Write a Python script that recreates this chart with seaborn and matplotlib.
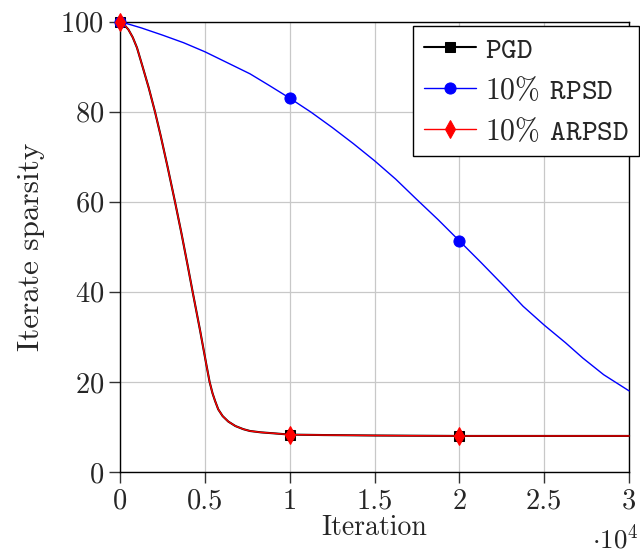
import numpy as np
import pandas as pd
import matplotlib
matplotlib.use('Agg')
import matplotlib.pyplot as plt
from matplotlib.ticker import FuncFormatter, MultipleLocator
import seaborn as sns

sns.set_style('ticks')
plt.rcParams['font.family'] = ['cmr10', 'DejaVu Serif']
plt.rcParams['mathtext.fontset'] = 'cm'
plt.rcParams['axes.formatter.use_mathtext'] = True
plt.rcParams['axes.unicode_minus'] = False

# PGD / ARPSD 几乎重合
pgd_iter = [0, 250, 500, 750, 1000, 1330, 1700, 2060, 2400, 2800, 3240, 3620,
            4000, 4280, 4710, 5070, 5280, 5450, 5600, 5790, 6050, 6380, 6800,
            7270, 7660, 8300, 9000, 10000, 12000, 15000, 20000, 25000, 30000]
pgd_sparsity = [100, 99.3, 98.2, 96.5, 94.2, 90.0, 85.2, 80, 74.6, 67.8, 60, 53,
                45.6, 40, 31.6, 24.2, 20, 17.5, 15.8, 13.9, 12.4, 11.2, 10.2,
                9.5, 9.1, 8.8, 8.6, 8.3, 8.2, 8.1, 8.0, 8.0, 8.0]
arpsd_iter = list(pgd_iter)
arpsd_sparsity = list(pgd_sparsity)

rpsd_iter = [0, 1250, 2500, 3750, 5000, 6250, 7660, 8800, 10000, 11250, 12500,
             13750, 15000, 16250, 17460, 18750, 20000, 21250, 22750, 23750, 25000,
             26250, 27270, 28500, 30000]
rpsd_sparsity = [100, 98.6, 97.0, 95.3, 93.3, 91.0, 88.4, 85.8, 83.0, 79.9, 76.5,
                 72.9, 69.1, 65.0, 60.6, 56.0, 51.3, 46.6, 40.8, 36.8, 32.6,
                 28.7, 25.3, 21.6, 18.0]

mark_at = [0, 10000, 20000]

fig, ax = plt.subplots(figsize=(6.4, 5.53), dpi=100)
fig.subplots_adjust(left=0.1875, right=0.983, bottom=0.1465, top=0.961)

ax.grid(True, color='#c8c8c8', lw=0.9)
ax.set_axisbelow(True)

sns.lineplot(x=pgd_iter, y=pgd_sparsity, ax=ax, color='black', lw=1.5,
             marker='s', markersize=7, markeredgecolor='black',
             markevery=[pgd_iter.index(v) for v in mark_at],
             label=r'$\mathtt{PGD}$', clip_on=False, zorder=3)
sns.lineplot(x=rpsd_iter, y=rpsd_sparsity, ax=ax, color='#0000ff', lw=1.0,
             marker='o', markersize=8, markeredgecolor='#0000ff',
             markevery=[rpsd_iter.index(v) for v in mark_at],
             label=r'$10\%$ $\mathtt{RPSD}$', clip_on=False, zorder=3)
sns.lineplot(x=arpsd_iter, y=arpsd_sparsity, ax=ax, color='#ff0000', lw=1.0,
             marker='d', markersize=9, markeredgecolor='#ff0000',
             markevery=[arpsd_iter.index(v) for v in mark_at],
             label=r'$10\%$ $\mathtt{ARPSD}$', clip_on=False, zorder=4)

ax.set_xlim(0, 30000)
ax.set_ylim(0, 100)
ax.xaxis.set_major_locator(MultipleLocator(5000))
ax.yaxis.set_major_locator(MultipleLocator(20))
ax.xaxis.set_major_formatter(FuncFormatter(lambda v, p: f'{v / 1e4:g}'))
ax.tick_params(direction='out', length=8, width=1, labelsize=20.5, color='#333333')
ax.tick_params(axis='x', pad=4)

for s in ax.spines.values():
    s.set_visible(True)
    s.set_color('black')
    s.set_linewidth(1.0)

ax.set_xlabel('Iteration', fontsize=20, labelpad=0)
ax.set_ylabel('Iterate sparsity', fontsize=22.5, labelpad=11)
ax.text(1.018, -0.148, r'$\cdot 10^4$', transform=ax.transAxes,
        ha='right', va='center', fontsize=19.5)

leg = ax.legend(loc='upper right', bbox_to_anchor=(1.02, 0.99), fontsize=21.5,
                frameon=True, fancybox=False, framealpha=1, edgecolor='black',
                handlelength=1.75, handletextpad=0.3, borderpad=0.35, labelspacing=0.4,
                borderaxespad=0)
leg.get_frame().set_linewidth(1.0)
leg.set_zorder(10)

fig.savefig('out.png', dpi=100)
